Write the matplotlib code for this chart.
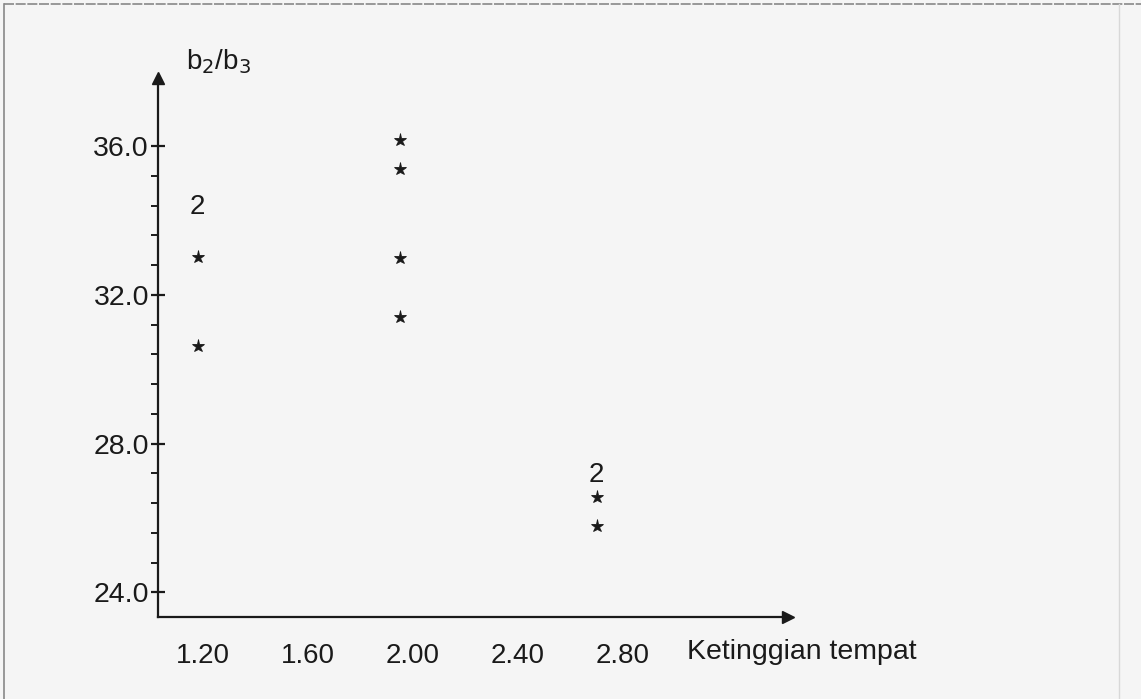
import numpy as np
import matplotlib.pyplot as plt
from matplotlib.lines import Line2D

plt.rcParams['font.family'] = ['Liberation Sans', 'DejaVu Sans']

# character plot: each point at (ketinggian, b2/b3); count 2 = two cases overlap
ketinggian = [1.18, 1.18, 1.18, 1.95, 1.95, 1.95, 1.95, 2.70, 2.70, 2.70]
rasio_b2b3 = [34.36, 33.02, 30.62, 36.16, 35.38, 33.00, 31.40, 27.16, 26.56, 25.78]
jumlah = [2, 1, 1, 1, 1, 1, 1, 2, 1, 1]

x_ticks = [1.20, 1.60, 2.00, 2.40, 2.80]
y_ticks = [24.0, 28.0, 32.0, 36.0]

fig = plt.figure(figsize=(11.41, 6.99), dpi=100, facecolor='#f5f5f5')
ax = fig.add_axes([158 / 1141, 1 - 617 / 699, (788 - 158) / 1141, (617 - 78) / 699])
ax.set_facecolor('none')
x_left = 1.2 - 45 / 262.5
x_right = 1.2 + (788 - 203) / 262.5
y_bot = 36 - (617 - 146) / 37.2
y_top = 36 + (146 - 78) / 37.2
ax.set_xlim(x_left, x_right)
ax.set_ylim(y_bot, y_top)

for s in ['top', 'right']:
    ax.spines[s].set_visible(False)
for s in ['left', 'bottom']:
    ax.spines[s].set_linewidth(1.6)
    ax.spines[s].set_color('#1a1a1a')

# arrow heads
ax.plot(1, 0, '>', color='#1a1a1a', ms=9, transform=ax.transAxes, clip_on=False)
ax.plot(0, 1, '^', color='#1a1a1a', ms=9, transform=ax.transAxes, clip_on=False)

ax.set_xticks(x_ticks)
ax.set_xticklabels([f'{v:.2f}' for v in x_ticks])
ax.tick_params(axis='x', length=0, pad=19, labelsize=20, labelcolor='#1a1a1a')

ax.set_yticks(y_ticks)
ax.set_yticklabels([f'{v:.1f}' for v in y_ticks])
ax.set_yticks(np.arange(24, 36.01, 0.8), minor=True)
ax.tick_params(axis='y', which='major', direction='inout', length=10, width=1.6,
               pad=1.5, labelsize=20.5, labelcolor='#1a1a1a', color='#1a1a1a')
ax.tick_params(axis='y', which='minor', direction='out', length=5, width=1.4, color='#1a1a1a')

for x, y, n in zip(ketinggian, rasio_b2b3, jumlah):
    if n == 1:
        ax.plot(x, y, '*', color='#1a1a1a', ms=9.5, mew=0.6, clip_on=False)
    else:
        ax.text(x, y, str(n), ha='center', va='center', fontsize=20, color='#1a1a1a')

fig.text(186 / 1141, 1 - 62 / 699, 'b$_2$/b$_3$', fontsize=20, va='center', ha='left', color='#1a1a1a')
fig.text(687 / 1141, 1 - 652 / 699, 'Ketinggian tempat', fontsize=20.5, va='center', ha='left', color='#1a1a1a')

# scanned frame lines
fig.add_artist(Line2D([4 / 1141, 1], [1 - 4 / 699] * 2, color='#888888', lw=1.2, ls=(0, (6, 1))))
fig.add_artist(Line2D([4 / 1141] * 2, [0, 1 - 4 / 699], color='#888888', lw=1.2))
fig.add_artist(Line2D([1119 / 1141] * 2, [0, 1 - 4 / 699], color='#d8d8d8', lw=1.0))

fig.savefig('out.png', dpi=100, facecolor=fig.get_facecolor())
